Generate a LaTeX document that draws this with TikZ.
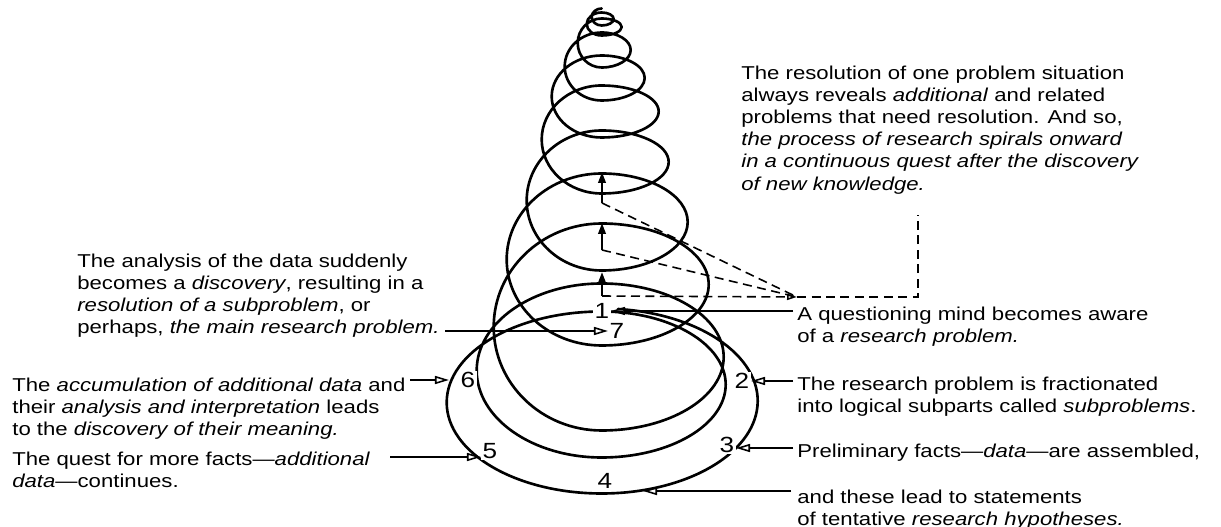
\documentclass[tikz,border=0pt]{standalone}
\usepackage{fontspec}
\setmainfont{Liberation Sans}[FakeStretch=1.19]
\usetikzlibrary{arrows.meta}

\begin{document}
\begin{tikzpicture}[x=0.02cm,y=-0.02cm,
    texto/.style={anchor=north west,align=left,inner sep=0pt,font=\fontsize{10.6}{12.6}\selectfont},
    num/.style={fill=white,inner sep=0.8pt,font=\fontsize{12.5}{14}\selectfont},
    espiral/.style={line width=1.5pt,line cap=round,line join=round},
    flecha/.style={line width=0.9pt,-{Triangle[open,length=2.8mm,width=1.6mm]}},
    guia/.style={line width=0.9pt,dash pattern=on 1.8mm off 1.1mm},
    sube/.style={line width=1.3pt,-{Triangle[length=2.2mm,width=1.5mm]}}]
    \useasboundingbox (0,0) rectangle (1221,527);
    % espiral
    \draw[espiral] (618,309) arc[start angle=-84,end angle=90,x radius=156,y radius=92.5]
      arc[start angle=90,end angle=270,x radius=155,y radius=91]
      foreach \ya/\ra/\yb/\rb/\yc in {311/124/457/125/283, 283/122/430/108/223,
        223/107/345/95/173, 173/86/270/75/130, 130/67/193/60/85, 85/57/137/50/55,
        55/43/100/37/32, 32/29/67/24/18, 18/20/35/15/12, 12/12/25/10/8}
      { arc[start angle=-90,end angle=90,x radius=\ra,y radius={(\yb-\ya)/2}]
        arc[start angle=90,end angle=270,x radius=\rb,y radius={(\yb-\yc)/2}] };
    % guias
    \coordinate (hub) at (797,297);
    \coordinate (esq) at (918,297);
    \coordinate (arr) at (918,215);
    \coordinate (b1) at (602,296);
    \coordinate (b2) at (602,250);
    \coordinate (b3) at (602,203);
    \draw[guia] (b2) -- (hub);
    \draw[guia] (b3) -- (hub);
    \draw[guia,-{Triangle[open,length=2mm,width=1.2mm]}] (b1) -- (hub);
    \draw[guia] (hub) -- (esq) -- (arr);
    \draw[sube] (b1) -- ++(0,-24);
    \draw[sube] (b2) -- ++(0,-27);
    \draw[sube] (b3) -- ++(0,-31);
    % numeros
    \node[num] (n1) at (602,311) {1};
    \node[num] (n2) at (742,381) {2};
    \node[num] (n3) at (727,445) {3};
    \node[num] (n4) at (605,481) {4};
    \node[num] (n5) at (490,451) {5};
    \node[num] (n6) at (468,380) {6};
    \node[num] (n7) at (617,331) {7};
    % textos
    \node[texto] (resol) at (741,65.5)
      {The resolution of one problem situation\\
       always reveals \textit{additional} and related\\
       problems that need resolution. And so,\\
       \textit{the process of research spirals onward}\\
       \textit{in a continuous quest after the discovery}\\
       \textit{of new knowledge.}};
    \node[texto] (aware) at (797,306.5)
      {A questioning mind becomes aware\\ of a \textit{research problem.}};
    \node[texto] (frac) at (797,376.5)
      {The research problem is fractionated\\ into logical subparts called \textit{subproblems}.};
    \node[texto] (prelim) at (797,443.5)
      {Preliminary facts---\textit{data}---are assembled,};
    \node[texto] (hypo) at (797,489.5)
      {and these lead to statements\\ of tentative \textit{research hypotheses.}};
    \node[texto] (analysis) at (77,253.5)
      {The analysis of the data suddenly\\
       becomes a \textit{discovery}, resulting in a\\
       \textit{resolution of a subproblem}, or\\
       perhaps, \textit{the main research problem.}};
    \node[texto] (accum) at (12,377.5)
      {The \textit{accumulation of additional data} and\\
       their \textit{analysis and interpretation} leads\\
       to the \textit{discovery of their meaning.}};
    \node[texto] (quest) at (12,451.5)
      {The quest for more facts---\textit{additional}\\ \textit{data}---continues.};
    % flechas
    \coordinate (t1) at (793,311);
    \coordinate (t2) at (793,381);
    \coordinate (t3) at (793,448);
    \coordinate (t4) at (791,491);
    \coordinate (s4) at (643,491);
    \coordinate (t5) at (390,457);
    \coordinate (t6) at (410,380);
    \coordinate (t7) at (445,331);
    \draw[flecha] (t1) -- (n1);
    \draw[flecha] (t2) -- (n2);
    \draw[flecha] (t3) -- (t3 -| n3.east);
    \draw[flecha] (t4) -- (s4);
    \draw[flecha] (t5) -- (t5 -| n5.west);
    \draw[flecha,shorten >=2mm] (t6) -- (n6);
    \draw[flecha] (t7) -- (n7);
\end{tikzpicture}
\end{document}
